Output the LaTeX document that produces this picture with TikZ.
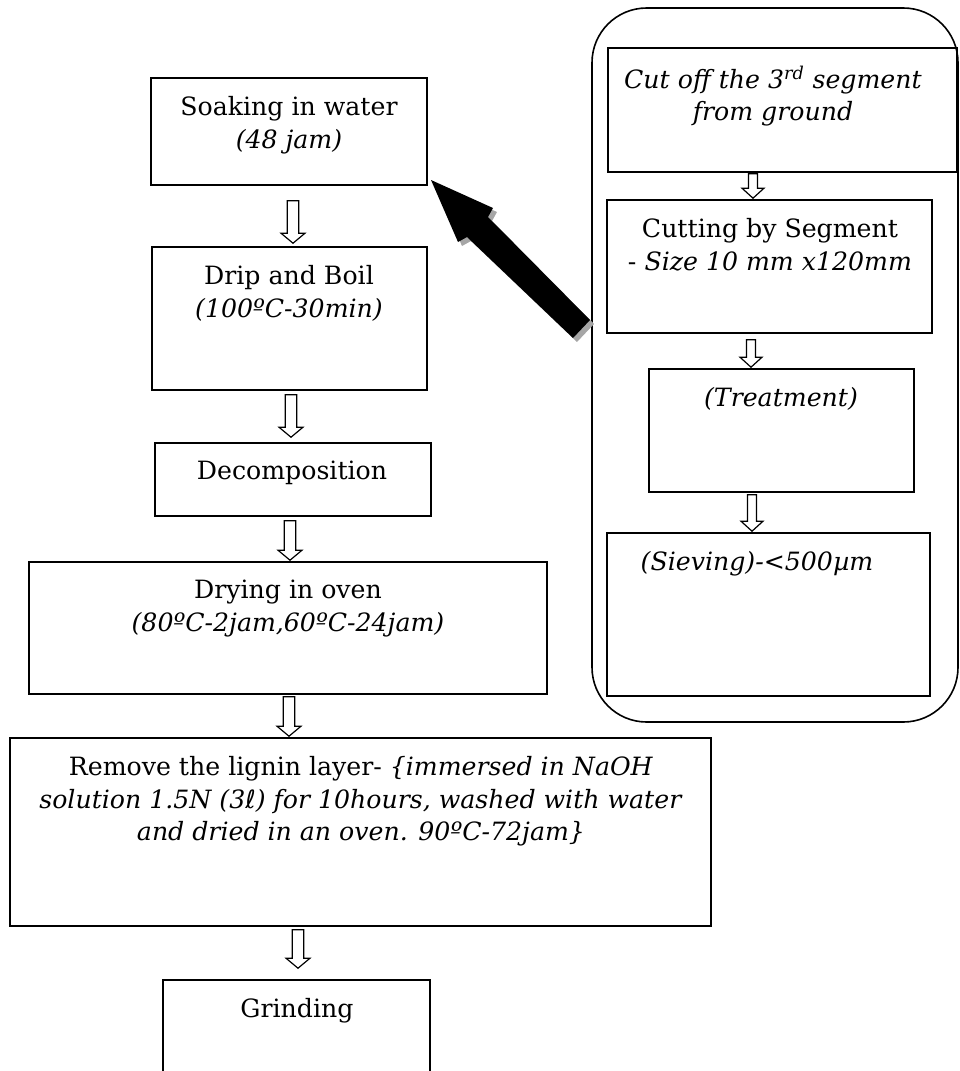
\documentclass[tikz,border=0pt]{standalone}
\usepackage{fontspec}
\setmainfont{DejaVu Serif}
\newfontfamily\ellfont{DejaVu Sans}
\usetikzlibrary{fit,calc}
% #1 upper node, #2 lower node, #3 x (px), #4 top gap, #5 bottom gap, #6 shaft half width, #7 head half width
\newcommand\harrow[7]{%
  \draw[harr] let \p1=(#1.south), \p2=(#2.north) in
    ({(#3-#6)*0.75pt},{\y1-#4*0.75pt}) --
    ({(#3-#6)*0.75pt},{\y2+(#5+10)*0.75pt}) --
    ({(#3-#7)*0.75pt},{\y2+(#5+10)*0.75pt}) --
    ({#3*0.75pt},{\y2+#5*0.75pt}) --
    ({(#3+#7)*0.75pt},{\y2+(#5+10)*0.75pt}) --
    ({(#3+#6)*0.75pt},{\y2+(#5+10)*0.75pt}) --
    ({(#3+#6)*0.75pt},{\y1-#4*0.75pt}) -- cycle;}
\begin{document}
\begin{tikzpicture}[x=0.75pt,y=-0.75pt,
  box/.style={draw, line width=1.2pt, inner sep=0pt},
  roundbox/.style={draw, line width=1.2pt, inner sep=0pt, rounded corners=41pt},
  txt/.style={align=center, inner sep=0pt, anchor=north, font=\fontsize{18.9pt}{24.5pt}\selectfont},
  harr/.style={draw, line width=0.9pt, fill=white, line join=miter},
  bigarrow/.style={fill=black},
  bigshadow/.style={fill=black!35}]
\useasboundingbox (0,0) rectangle (960,1071);

% right container
\node[roundbox, fit={(592,8) (958,722)}] (group) {};

% left column
\node[box, fit={(151,78) (427,185)}] (soak) {};
\node[txt] (soakT) at (289,96) {Soaking in water\\\textit{(48 jam)}};
\node[box, fit={(152,247) (427,390)}] (drip) {};
\node[txt] (dripT) at (289,265) {Drip and Boil\\\textit{(100ºC-30min)}};
\node[box, fit={(155,443) (431,516)}] (decomp) {};
\node[txt] (decompT) at (292,461) {Decomposition};
\node[box, fit={(29,562) (547,694)}] (dry) {};
\node[txt] (dryT) at (288,580) {Drying in oven\\\textit{(80ºC-2jam,60ºC-24jam)}};
\node[box, fit={(10,738) (711,926)}] (lignin) {};
\node[txt] (ligninT) at (361,756) {Remove the lignin layer- \textit{\{immersed in NaOH}\\\textit{solution 1.5N (3{\ellfont ℓ}) for 10hours, washed with water}\\\textit{and dried in an oven. 90ºC-72jam\}}};
\node[box, fit={(163,980) (430,1085)}] (grind) {};
\node[txt] (grindT) at (297,998) {Grinding};

% right column
\node[box, fit={(608,48) (957,172)}] (cut) {};
\node[txt] (cutT) at (773,66) {\textit{Cut off the 3\textsuperscript{rd} segment}\\\textit{from ground}};
\node[box, fit={(607,200) (932,333)}] (seg) {};
\node[txt] (segT) at (770,218) {Cutting by Segment\\- \textit{Size 10 mm x120mm}};
\node[box, fit={(649,369) (914,492)}] (treat) {};
\node[txt] (treatT) at (781,387) {\textit{(Treatment)}};
\node[box, fit={(607,533) (930,696)}] (sieve) {};
\node[txt] (sieveT) at (757,551) {\textit{(Sieving)-<500µm}};

% hollow arrows
\harrow{soak}{drip}{293}{15}{3}{5.8}{12}
\harrow{drip}{decomp}{291}{4}{5}{5.8}{12}
\harrow{decomp}{dry}{290}{4}{1}{5.8}{12}
\harrow{dry}{lignin}{289}{2}{1}{5.8}{12}
\harrow{lignin}{grind}{298}{3}{11}{5.8}{12}
\harrow{cut}{seg}{753}{1}{1}{4.5}{11}
\harrow{seg}{treat}{751}{6}{1}{4.5}{11}
\harrow{treat}{sieve}{752}{2}{1}{4.5}{11}

% big block arrow from the right group to the soaking box
\fill[bigshadow] (435,184) -- (497,212) -- (492,221) -- (594,324) -- (577,342) -- (471,241) -- (462,246) -- cycle;
\fill[bigarrow] (431,180) -- (493,208) -- (488,217) -- (590,320) -- (573,338) -- (467,237) -- (458,242) -- cycle;
\end{tikzpicture}
\end{document}
